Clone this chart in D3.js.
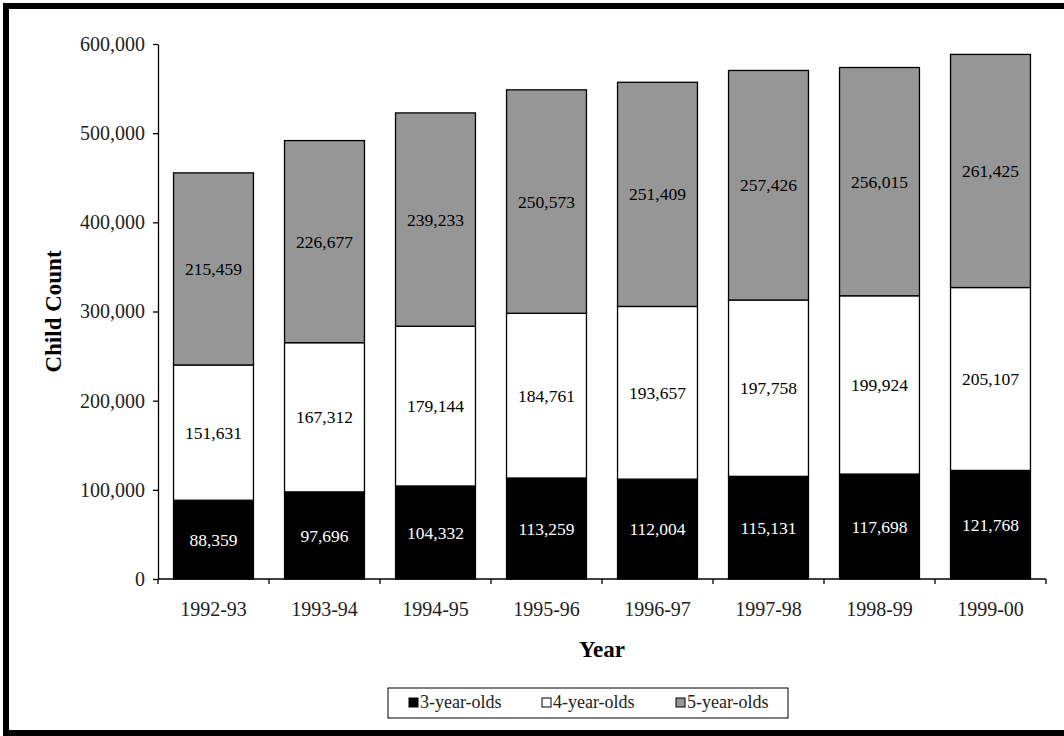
<!DOCTYPE html>
<html>
<head>
<meta charset="utf-8">
<script src="https://d3js.org/d3.v7.min.js"></script>
<style>
  body { margin:0; background:#fff; }
  svg { display:block; font-family:"Liberation Serif", "DejaVu Serif", serif; }
</style>
</head>
<body>
<div class="chart"></div>
<script>
var years = ["1992-93","1993-94","1994-95","1995-96","1996-97","1997-98","1998-99","1999-00"];
var threeYearOlds = [88359, 97696, 104332, 113259, 112004, 115131, 117698, 121768];
var fourYearOlds = [151631, 167312, 179144, 184761, 193657, 197758, 199924, 205107];
var fiveYearOlds = [215459, 226677, 239233, 250573, 251409, 257426, 256015, 261425];
var seriesNames = ["3-year-olds","4-year-olds","5-year-olds"];
var yTicks = [0,100000,200000,300000,400000,500000,600000];

var ChildChart = (function(){
  var svg, x, y;
  var ww = 1064, hh = 736;
  var left = 158, right = 1046, top = 44, bottom = 579;
  var fills = ["#000000","#ffffff","#969696"];
  var labelColors = ["#ffffff","#000000","#000000"];
  var fmt = d3.format(",");

  function initHTML(){
    svg = d3.select(".chart").append("svg")
            .attr("width",ww)
            .attr("height",hh);
    // outer frame, right side runs off the picture
    svg.append("rect")
       .attr("x",6).attr("y",6)
       .attr("width",ww+20).attr("height",727)
       .style("fill","none")
       .style("stroke","#000")
       .style("stroke-width","6px");
  }

  function renderAxes(){
    x = d3.scaleBand().domain(years).range([left,right]).paddingInner(0.28).paddingOuter(0.14);
    y = d3.scaleLinear().domain([0,600000]).range([bottom,top]);

    var yAxis = svg.append("g")
       .attr("transform","translate("+left+",0)")
       .call(d3.axisLeft(y).tickValues(yTicks).tickFormat(fmt).tickSize(5).tickSizeOuter(0))
       .attr("font-family",null)
       .attr("font-size",null);
    yAxis.select(".domain").style("stroke","#000").style("stroke-width","1.3px");
    yAxis.selectAll("line").style("stroke-width","1.3px");
    yAxis.selectAll("text").style("font-size","20px").attr("x",-13).attr("fill","#222");

    // category ticks sit on the borders between years
    var xAxis = svg.append("g").attr("transform","translate(0,"+bottom+")");
    xAxis.append("line").attr("x1",left).attr("x2",right).style("stroke","#000").style("stroke-width","1.3px");
    var step = x.step();
    for(var i=0;i<=years.length;i++){
      xAxis.append("line")
        .attr("x1",left+i*step).attr("x2",left+i*step)
        .attr("y1",0).attr("y2",5)
        .style("stroke","#000").style("stroke-width","1.3px");
    }
    xAxis.selectAll("text.tick").data(years).enter().append("text")
        .attr("x",function(d){ return x(d)+x.bandwidth()/2; })
        .attr("y",37)
        .attr("text-anchor","middle")
        .style("font-size","20px")
        .style("fill","#222")
        .text(function(d){ return d; });

    svg.append("text")
       .attr("x",(left+right)/2).attr("y",657)
       .attr("text-anchor","middle")
       .style("font-weight","bold").style("font-size","23px")
       .text("Year");
    svg.append("text")
       .attr("transform","translate(61,"+((top+bottom)/2)+") rotate(-90)")
       .attr("text-anchor","middle")
       .style("font-weight","bold").style("font-size","23px")
       .text("Child Count");
  }

  function renderBars(){
    var rows = years.map(function(yr,i){
      return {year:yr, a:threeYearOlds[i], b:fourYearOlds[i], c:fiveYearOlds[i]};
    });
    var stack = d3.stack().keys(["a","b","c"])(rows);
    stack.forEach(function(layer,k){
      var g = svg.append("g");
      g.selectAll("rect").data(layer).enter().append("rect")
        .attr("x",function(d){ return x(d.data.year); })
        .attr("y",function(d){ return y(d[1]); })
        .attr("width",x.bandwidth())
        .attr("height",function(d){ return y(d[0])-y(d[1]); })
        .style("fill",fills[k])
        .style("stroke","#000")
        .style("stroke-width","1.3px");
      g.selectAll("text").data(layer).enter().append("text")
        .attr("x",function(d){ return x(d.data.year)+x.bandwidth()/2; })
        .attr("y",function(d){ return (y(d[0])+y(d[1]))/2; })
        .attr("dy","0.35em")
        .attr("text-anchor","middle")
        .style("font-size","17.5px")
        .style("fill",labelColors[k])
        .text(function(d){ return fmt(d[1]-d[0]); });
    });
  }

  function renderLegend(){
    var lg = svg.append("g");
    lg.append("rect")
      .attr("x",388).attr("y",688).attr("width",400).attr("height",30)
      .style("fill","#fff").style("stroke","#000").style("stroke-width","1px");
    var xs = [409,542,676];
    seriesNames.forEach(function(name,i){
      lg.append("rect")
        .attr("x",xs[i]).attr("y",698).attr("width",9).attr("height",9)
        .style("fill",fills[i]).style("stroke","#000").style("stroke-width","1px");
      lg.append("text")
        .attr("x",xs[i]+11).attr("y",708)
        .style("font-size","18px")
        .style("fill","#222")
        .text(name);
    });
  }

  return {
    init : function(){
      initHTML();
      renderAxes();
      renderBars();
      renderLegend();
    }
  }
})();

ChildChart.init();
</script>
</body>
</html>
